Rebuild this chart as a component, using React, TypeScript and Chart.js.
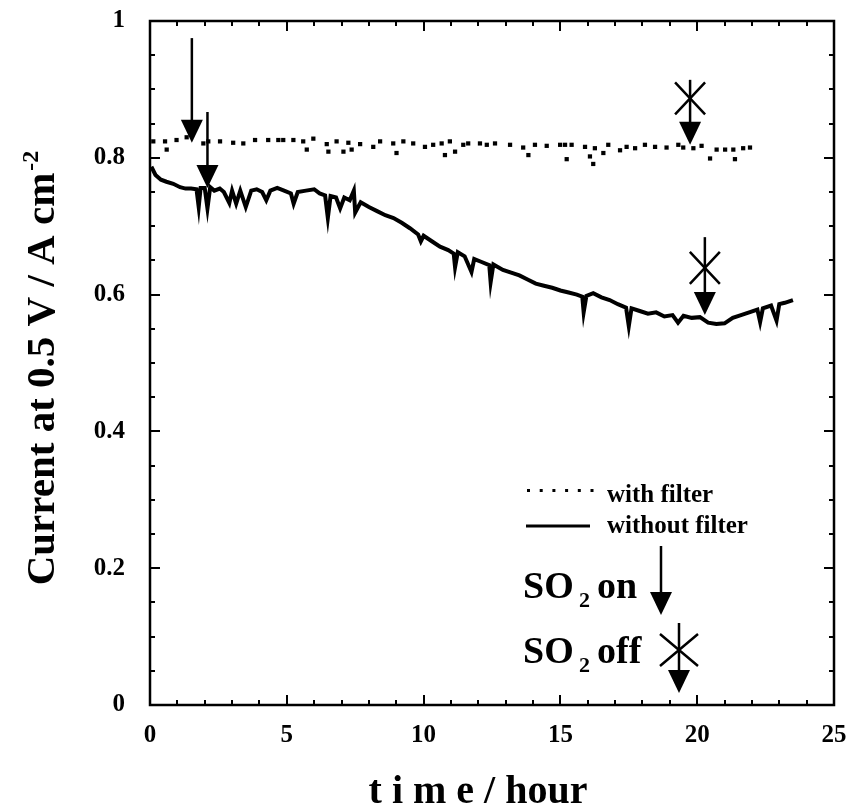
import React, { useEffect, useRef } from "react";
import { Chart, registerables } from "chart.js";
Chart.register(...registerables);

// ---- data ----
const timeWithout = [
  0.05, 0.2, 0.4, 0.6, 0.85, 1.1, 1.3, 1.5, 1.7, 1.78, 1.85, 2.0, 2.1, 2.2, 2.35, 2.55, 2.7, 2.9, 3.0, 3.15,
  3.3, 3.5, 3.7, 3.9, 4.1, 4.25, 4.4, 4.65, 4.9, 5.15, 5.25, 5.4, 5.7, 6.0, 6.2, 6.4, 6.5, 6.6, 6.8, 6.95,
  7.1, 7.3, 7.45, 7.5, 7.7, 8.0, 8.3, 8.6, 8.9, 9.2, 9.5, 9.8, 9.9, 10.0, 10.3, 10.6, 10.9, 11.1, 11.15, 11.25,
  11.5, 11.75, 11.85, 12.1, 12.4, 12.45, 12.55, 12.9, 13.2, 13.5, 13.8, 14.1, 14.4, 14.7, 15.0, 15.3, 15.6, 15.8, 15.85, 15.95,
  16.2, 16.5, 16.8, 17.1, 17.4, 17.5, 17.6, 17.9, 18.2, 18.5, 18.8, 19.1, 19.3, 19.5, 19.8, 20.1, 20.4, 20.7, 21.0, 21.3,
  21.6, 21.9, 22.2, 22.3, 22.4, 22.7, 22.9, 23.0, 23.2, 23.5,
];
const currentWithout = [
  0.787, 0.775, 0.768, 0.765, 0.762, 0.757, 0.755, 0.755, 0.754, 0.728, 0.756, 0.756, 0.726, 0.757, 0.752, 0.755, 0.75, 0.734, 0.752, 0.733,
  0.752, 0.728, 0.752, 0.754, 0.75, 0.738, 0.752, 0.756, 0.752, 0.748, 0.733, 0.75, 0.752, 0.754, 0.748, 0.745, 0.712, 0.744, 0.742, 0.726,
  0.742, 0.738, 0.752, 0.72, 0.735, 0.728, 0.722, 0.716, 0.712, 0.705, 0.697, 0.688, 0.678, 0.686, 0.678, 0.67, 0.665, 0.66, 0.64, 0.662,
  0.656, 0.633, 0.652, 0.648, 0.643, 0.618, 0.644, 0.636, 0.632, 0.628, 0.622, 0.616, 0.613, 0.61, 0.606, 0.603, 0.6, 0.597, 0.574, 0.598,
  0.602, 0.596, 0.592, 0.586, 0.581, 0.554, 0.58, 0.576, 0.572, 0.574, 0.568, 0.57, 0.559, 0.569, 0.566, 0.567, 0.559, 0.557, 0.558, 0.566,
  0.57, 0.574, 0.578, 0.56, 0.58, 0.584, 0.562, 0.586, 0.588, 0.592,
];
const timeWith = [
  0.12, 0.55, 0.61, 0.97, 1.34, 1.95, 2.13, 2.56, 3.04, 3.41, 3.84, 4.32, 4.69, 4.87, 5.24, 5.6, 5.73, 5.97, 6.46, 6.52,
  6.82, 7.07, 7.25, 7.37, 7.68, 8.16, 8.41, 8.89, 9.01, 9.26, 9.62, 10.05, 10.35, 10.66, 10.78, 10.96, 11.15, 11.45, 11.63, 12.06,
  12.31, 12.61, 13.16, 13.64, 13.83, 14.07, 14.5, 14.99, 15.17, 15.23, 15.41, 15.9, 16.08, 16.2, 16.26, 16.57, 16.75, 17.18, 17.42, 17.73,
  18.09, 18.46, 18.88, 19.31, 19.49, 19.86, 20.16, 20.47, 20.71, 21.02, 21.32, 21.38, 21.68, 21.93,
];
const currentWith = [
  0.824, 0.824, 0.812, 0.826, 0.83, 0.821, 0.824, 0.824, 0.822, 0.821, 0.826, 0.826, 0.826, 0.826, 0.826, 0.824, 0.812, 0.828, 0.82, 0.809,
  0.824, 0.809, 0.822, 0.812, 0.82, 0.816, 0.824, 0.821, 0.807, 0.824, 0.821, 0.816, 0.819, 0.821, 0.804, 0.824, 0.809, 0.819, 0.821, 0.821,
  0.819, 0.821, 0.819, 0.815, 0.804, 0.819, 0.8175, 0.819, 0.819, 0.798, 0.819, 0.816, 0.802, 0.791, 0.814, 0.807, 0.819, 0.811, 0.816, 0.814,
  0.819, 0.816, 0.815, 0.819, 0.815, 0.814, 0.8175, 0.799, 0.812, 0.812, 0.812, 0.798, 0.814, 0.815,
];
const xTickValues = [0, 5, 10, 15, 20, 25];
const xTickLabels = ["0", "5", "10", "15", "20", "25"];
const yTickValues = [0, 0.2, 0.4, 0.6, 0.8, 1];
const yTickLabels = ["0", "0.2", "0.4", "0.6", "0.8", "1"];
const xTitle = "t i m e / hour";
const yTitleMain = "Current at 0.5 V / A cm";
const yTitleSup = "-2";
const legendLabels = ["with filter", "without filter"];
// SO2 markers: time, shaft top value, arrow tip value
const so2OnTimes = [1.53, 2.1];
const so2OnTops = [0.975, 0.867];
const so2OnTips = [0.822, 0.756];
const so2OffTimes = [19.74, 20.28];
const so2OffTops = [0.914, 0.684];
const so2OffCross = [0.887, 0.639];
const so2OffTips = [0.819, 0.57];

const FONT = "'Liberation Serif', 'Times New Roman', serif";

function arrow(ctx: CanvasRenderingContext2D, x: number, y0: number, yTip: number) {
  const headH = 23;
  const headW = 11;
  ctx.beginPath();
  ctx.moveTo(x, y0);
  ctx.lineTo(x, yTip - headH + 2);
  ctx.stroke();
  ctx.beginPath();
  ctx.moveTo(x - headW, yTip - headH);
  ctx.lineTo(x + headW, yTip - headH);
  ctx.lineTo(x, yTip);
  ctx.closePath();
  ctx.fill();
}

function cross(ctx: CanvasRenderingContext2D, x: number, y: number, hw: number, hh: number) {
  ctx.beginPath();
  ctx.moveTo(x - hw, y - hh);
  ctx.lineTo(x + hw, y + hh);
  ctx.moveTo(x + hw, y - hh);
  ctx.lineTo(x - hw, y + hh);
  ctx.stroke();
}

const decorPlugin = {
  id: "decor",
  afterDraw(chart: any) {
    const ctx: CanvasRenderingContext2D = chart.ctx;
    const { left, right, top, bottom } = chart.chartArea;
    const xs = chart.scales.x;
    const ys = chart.scales.y;
    ctx.save();
    ctx.strokeStyle = "#000";
    ctx.fillStyle = "#000";
    ctx.lineCap = "butt";
    // frame
    ctx.lineWidth = 2.5;
    ctx.strokeRect(left, top, right - left, bottom - top);
    // ticks
    ctx.lineWidth = 2;
    for (let t = 0; t <= 25; t++) {
      const px = Math.round(xs.getPixelForValue(t));
      const len = t % 5 === 0 ? 10 : 5;
      ctx.beginPath();
      ctx.moveTo(px, bottom);
      ctx.lineTo(px, bottom - len);
      ctx.moveTo(px, top);
      ctx.lineTo(px, top + len);
      ctx.stroke();
    }
    for (let i = 0; i <= 20; i++) {
      const v = i * 0.05;
      const py = Math.round(ys.getPixelForValue(v));
      const len = i % 4 === 0 ? 10 : 5;
      ctx.beginPath();
      ctx.moveTo(left, py);
      ctx.lineTo(left + len, py);
      ctx.moveTo(right, py);
      ctx.lineTo(right - len, py);
      ctx.stroke();
    }
    // tick labels
    ctx.font = `bold 25px ${FONT}`;
    ctx.textAlign = "center";
    ctx.textBaseline = "middle";
    xTickValues.forEach((v, i) => {
      ctx.fillText(xTickLabels[i], xs.getPixelForValue(v), bottom + 31);
    });
    ctx.textAlign = "right";
    yTickValues.forEach((v, i) => {
      ctx.fillText(yTickLabels[i], left - 25, ys.getPixelForValue(v));
    });
    // x title
    ctx.textAlign = "center";
    ctx.textBaseline = "alphabetic";
    ctx.font = `bold 40px ${FONT}`;
    ctx.fillText(xTitle, 478, bottom + 98);
    // y title
    ctx.save();
    ctx.translate(54, (top + bottom) / 2 + 6);
    ctx.rotate(-Math.PI / 2);
    ctx.font = `bold 41px ${FONT}`;
    const wMain = ctx.measureText(yTitleMain).width;
    ctx.font = `bold 24px ${FONT}`;
    const wSup = ctx.measureText(yTitleSup).width;
    const start = -(wMain + wSup) / 2;
    ctx.textAlign = "left";
    ctx.font = `bold 41px ${FONT}`;
    ctx.fillText(yTitleMain, start, 0);
    ctx.font = `bold 24px ${FONT}`;
    ctx.fillText(yTitleSup, start + wMain + 2, -16);
    ctx.restore();

    // legend
    ctx.font = `bold 25px ${FONT}`;
    ctx.textAlign = "left";
    ctx.textBaseline = "alphabetic";
    ctx.fillText(legendLabels[0], 607, 502);
    ctx.fillText(legendLabels[1], 607, 533);
    for (let k = 0; k < 6; k++) {
      ctx.fillRect(527 + k * 12.7, 489, 3, 3);
    }
    ctx.lineWidth = 3;
    ctx.beginPath();
    ctx.moveTo(526, 526);
    ctx.lineTo(590, 526);
    ctx.stroke();

    // SO2 legend
    ctx.font = `bold 38px ${FONT}`;
    ctx.fillText("SO", 523, 598);
    ctx.fillText("on", 597, 598);
    ctx.fillText("SO", 523, 663);
    ctx.fillText("off", 597, 663);
    ctx.font = `bold 22px ${FONT}`;
    ctx.fillText("2", 579, 607);
    ctx.fillText("2", 579, 672);
    ctx.lineWidth = 2.5;
    arrow(ctx, 661, 546, 615);
    arrow(ctx, 679, 623, 693);
    cross(ctx, 679, 650, 19, 16);

    // markers in plot
    so2OnTimes.forEach((t, i) => {
      arrow(ctx, xs.getPixelForValue(t), ys.getPixelForValue(so2OnTops[i]), ys.getPixelForValue(so2OnTips[i]));
    });
    so2OffTimes.forEach((t, i) => {
      const px = xs.getPixelForValue(t);
      arrow(ctx, px, ys.getPixelForValue(so2OffTops[i]), ys.getPixelForValue(so2OffTips[i]));
      cross(ctx, px, ys.getPixelForValue(so2OffCross[i]), 15, 16);
    });
    ctx.restore();
  },
};

export default function App() {
  const ref = useRef<HTMLCanvasElement>(null);
  useEffect(() => {
    if (!ref.current) return;
    const chart = new Chart(ref.current, {
      type: "scatter",
      data: {
        datasets: [
          {
            label: legendLabels[0],
            data: timeWith.map((t, i) => ({ x: t, y: currentWith[i] })),
            showLine: false,
            pointStyle: "rect",
            pointRadius: 3,
            pointBorderWidth: 0,
            backgroundColor: "#000",
            borderColor: "#000",
          },
          {
            label: legendLabels[1],
            data: timeWithout.map((t, i) => ({ x: t, y: currentWithout[i] })),
            showLine: true,
            borderColor: "#000",
            borderWidth: 4,
            pointRadius: 0,
            tension: 0,
            borderJoinStyle: "miter",
          },
        ],
      },
      options: {
        responsive: false,
        animation: false,
        layout: { padding: { left: 150, right: 12, top: 21, bottom: 107 } },
        plugins: { legend: { display: false }, tooltip: { enabled: false } },
        scales: {
          x: { type: "linear", min: 0, max: 25, display: false },
          y: { type: "linear", min: 0, max: 1, display: false },
        },
      },
      plugins: [decorPlugin],
    });
    return () => chart.destroy();
  }, []);
  return (
    <div style={{ position: "absolute", left: 0, top: 0, width: 846, height: 812, background: "#fff" }}>
      <canvas ref={ref} width={846} height={812} style={{ display: "block" }} />
    </div>
  );
}
